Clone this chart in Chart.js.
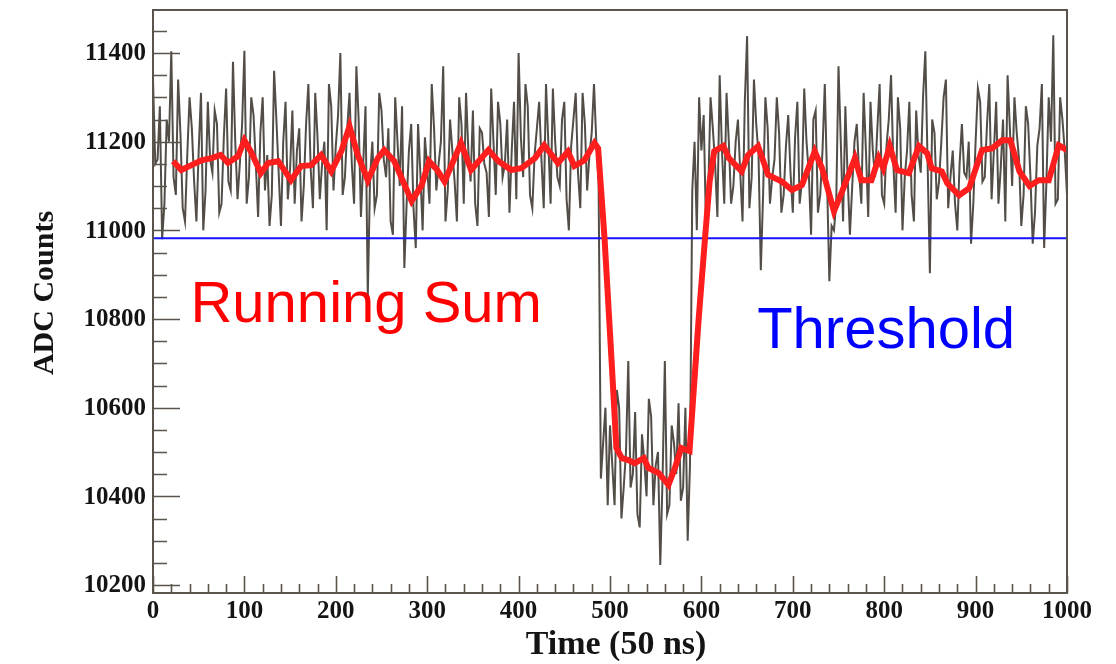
<!DOCTYPE html>
<html>
<head>
<meta charset="utf-8">
<script src="https://cdn.jsdelivr.net/npm/chart.js@4"></script>
<style>
  html, body { margin: 0; padding: 0; background: #fff; }
</style>
</head>
<body>
<canvas id="adc" width="1116" height="664"></canvas>
<script>
/* ADC trace with running sum and threshold (ROOT-style look) */

// raw ADC samples at t = 0, 5, 10 ... 1000
const rawStep = 5;
const rawCounts = [
  11340, 11160, 10980, 11250, 11404, 11080, 11220, 11020, 11300, 11110, 11180, 11000, 11290, 11130, 11240, 11060, 11320, 11090, 11200, 11150,
  11405, 11120, 11260, 11030, 11300, 11170, 11080, 11250, 11010, 11290, 11140, 11060, 11230, 11100, 11330, 11050, 11210, 11150, 11000, 11280,
  11190, 11400, 11120, 11310, 11060, 11250, 11150, 10850, 11200, 11080, 11270, 11120, 11020, 11300, 11100, 10915, 11180, 11050, 11240, 11000,
  11140, 11330, 11090, 11200, 11020, 11250, 11110, 11300, 11060, 11180, 11270, 11010, 11220, 11130, 11320, 11080, 11240, 11150, 11040, 11290,
  11400, 11120, 11280, 11050, 11230, 11160, 11330, 11060, 11200, 11100, 11290, 11000, 11250, 11130, 11310, 11090, 11220, 11200, 10440, 10600,
  10560, 10380, 10600, 10420, 10705, 10450, 10360, 10540, 10400, 10580, 10470, 10245, 10705, 10380, 10520, 10610, 10420, 10300, 11090, 11000,
  11180, 11010, 11300, 11150, 11350, 11060, 11200, 11100, 11250, 11020, 11438, 11120, 11240, 10910, 11300, 11060, 11160, 11220, 11080, 11260,
  11040, 11290, 11110, 11200, 10990, 11270, 11080, 11330, 10885, 11000, 11370, 11020, 11120, 11100, 11240, 11060, 11180, 11290, 11120, 11330,
  11060, 11250, 11150, 11300, 11000, 11180, 11080, 11270, 11130, 11404, 10903, 11220, 11110, 11300, 11050, 11180, 11000, 11240, 11120, 10970,
  11200, 11290, 11120, 11330, 11180, 11060, 11250, 11350, 11100, 11220, 11010, 11280, 11120, 11040, 11230, 10960, 11300, 11440, 11070, 11250, 11080
];
// raw ADC samples in between, at t = 2.5, 7.5 ... 997.5
const rawCountsMid = [
  11150, 11280, 11060, 11200, 11120, 11340, 11050, 11170, 11230, 11020, 11310, 11090, 11160, 11270, 11040, 11210, 11110, 11380, 11070, 11240,
  11060, 11300, 11150, 11220, 11090, 11010, 11360, 11130, 11200, 11070, 11270, 11180, 11020, 11240, 11140, 11310, 11070, 11200, 11330, 11090,
  11260, 11080, 11230, 11150, 11370, 11030, 11280, 11120, 11050, 11310, 11160, 11230, 10990, 11200, 11280, 11060, 11240, 10960, 11130, 11210,
  11060, 11230, 11150, 11370, 11090, 11180, 11020, 11240, 11310, 11110, 11060, 11230, 11150, 11030, 11200, 11290, 11120, 11250, 11180, 11070,
  11210, 11330, 11080, 11170, 11290, 11050, 11200, 11320, 11120, 11250, 11070, 11190, 11310, 11050, 11240, 11170, 11330, 11110, 10520, 10380,
  10470, 10640, 10350, 10500, 10420, 10590, 10330, 10480, 10620, 10380, 10500, 10440, 10360, 10560, 10450, 10390, 10600, 10470, 11200, 11300,
  11260, 11090, 11230, 11030, 11180, 11310, 11060, 11200, 11130, 11290, 11050, 11340, 11170, 11080, 11230, 11120, 11300, 11040, 11190, 11130,
  11210, 11060, 11320, 11130, 11250, 11040, 11180, 11110, 11010, 11060, 11200, 11280, 10990, 11200, 11130, 11310, 11030, 11180, 11230, 11080,
  11190, 11350, 11040, 11230, 11120, 11290, 11020, 11170, 11300, 11150, 11250, 11070, 11200, 11340, 11120, 11060, 11150, 11130, 11200, 11060,
  11320, 11110, 11240, 11070, 11290, 11140, 11020, 11230, 11300, 11160, 11080, 11240, 10970, 11190, 11330, 11110, 11200, 11060, 11300, 11180
];

// running sum (red)
const sumTime = [
  22, 31, 42, 53, 64, 74, 82, 93, 100, 107, 118, 126, 137, 151, 162, 173, 184, 195, 206, 215,
  224, 235, 246, 253, 264, 272, 283, 294, 302, 311, 319, 337, 348, 367, 378, 392, 403, 418, 428, 443,
  454, 461, 472, 483, 487, 494, 502, 507, 513, 520, 527, 537, 542, 553, 564, 571, 578, 587, 591, 597,
  604, 609, 614, 624, 630, 644, 651, 662, 673, 688, 699, 710, 724, 732, 745, 754, 768, 775, 786, 794,
  799, 806, 814, 827, 838, 847, 852, 863, 869, 882, 893, 907, 918, 929, 938, 948, 959, 969, 980, 991, 1000
];
const sumCounts = [
  11156, 11136, 11147, 11158, 11163, 11170, 11152, 11167, 11203, 11178, 11129, 11152, 11156, 11113, 11145, 11147, 11170, 11133, 11178, 11235,
  11170, 11113, 11163, 11181, 11156, 11118, 11066, 11102, 11156, 11136, 11110, 11197, 11136, 11181, 11156, 11136, 11140, 11163, 11192, 11152,
  11178, 11145, 11158, 11197, 11185, 10983, 10696, 10509, 10486, 10482, 10475, 10486, 10464, 10453, 10426, 10464, 10509, 10502, 10622, 10800,
  10983, 11110, 11178, 11190, 11163, 11133, 11170, 11190, 11125, 11110, 11091, 11102, 11178, 11140, 11043, 11088, 11163, 11113, 11113, 11163,
  11140, 11190, 11136, 11129, 11190, 11174, 11140, 11133, 11106, 11079, 11095, 11181, 11185, 11203, 11203, 11133, 11100, 11113, 11113, 11192, 11181
];

const thresholdLevel = 10982;

const xTicks = [0, 100, 200, 300, 400, 500, 600, 700, 800, 900, 1000];
const yTicks = [10200, 10400, 10600, 10800, 11000, 11200, 11400];

const rawPoints = [];
rawCounts.forEach((c, i) => {
  rawPoints.push({ x: i * rawStep, y: c });
  if (i < rawCountsMid.length) rawPoints.push({ x: i * rawStep + rawStep / 2, y: rawCountsMid[i] });
});
const sumPoints = sumTime.map((t, i) => ({ x: t, y: sumCounts[i] }));

// ROOT-like frame, inward ticks, labels and the two text notes
const rootAxes = {
  id: 'rootAxes',
  afterDatasetsDraw(chart) {
    const { ctx, chartArea: a, scales: { x, y } } = chart;
    ctx.save();

    ctx.strokeStyle = '#5a544c';
    ctx.lineWidth = 2;
    ctx.strokeRect(a.left, a.top, a.right - a.left, a.bottom - a.top);

    ctx.beginPath();
    for (let v = 0; v <= 1000; v += 20) {
      const px = Math.round(x.getPixelForValue(v)) + 0.5;
      const len = v % 100 === 0 ? 17 : 9;
      ctx.moveTo(px, a.bottom);
      ctx.lineTo(px, a.bottom - len);
    }
    for (let v = 10200; v <= 11450; v += 50) {
      const py = Math.round(y.getPixelForValue(v)) + 0.5;
      const len = v % 200 === 0 ? 27 : 14;
      ctx.moveTo(a.left, py);
      ctx.lineTo(a.left + len, py);
    }
    ctx.lineWidth = 1.6;
    ctx.stroke();

    ctx.fillStyle = '#141414';
    ctx.font = 'bold 25px "Liberation Serif"';
    ctx.textAlign = 'center';
    ctx.textBaseline = 'alphabetic';
    xTicks.forEach(v => ctx.fillText(String(v), x.getPixelForValue(v), 618));
    ctx.textAlign = 'right';
    ctx.textBaseline = 'middle';
    yTicks.forEach(v => ctx.fillText(String(v), a.left - 7, y.getPixelForValue(v) + 1));

    ctx.font = 'bold 34px "Liberation Serif"';
    ctx.textAlign = 'center';
    ctx.textBaseline = 'alphabetic';
    ctx.fillText('Time (50 ns)', 616, 654);

    ctx.save();
    ctx.translate(53, 293);
    ctx.rotate(-Math.PI / 2);
    ctx.font = 'bold 30px "Liberation Serif"';
    ctx.fillText('ADC Counts', 0, 0);
    ctx.restore();

    ctx.font = '58px "Liberation Sans"';
    ctx.textAlign = 'left';
    ctx.fillStyle = '#ff0000';
    ctx.fillText('Running Sum', x.getPixelForValue(41), y.getPixelForValue(10793));
    ctx.fillStyle = '#0000ff';
    ctx.fillText('Threshold', x.getPixelForValue(661), y.getPixelForValue(10735));

    ctx.restore();
  }
};

new Chart(document.getElementById('adc'), {
  type: 'line',
  data: {
    datasets: [
      {
        label: 'ADC samples',
        data: rawPoints,
        borderColor: 'rgba(44, 38, 30, 0.82)',
        borderWidth: 2,
        pointRadius: 0,
        tension: 0,
        order: 3
      },
      {
        label: 'Threshold',
        data: [{ x: 0, y: thresholdLevel }, { x: 1000, y: thresholdLevel }],
        borderColor: '#1414ff',
        borderWidth: 2,
        pointRadius: 0,
        order: 2
      },
      {
        label: 'Running Sum',
        data: sumPoints,
        borderColor: '#ff1e1e',
        borderWidth: 6,
        pointRadius: 0,
        tension: 0,
        order: 1
      }
    ]
  },
  options: {
    responsive: false,
    animation: false,
    devicePixelRatio: 1,
    layout: { padding: { left: 153, right: 49, top: 10, bottom: 71 } },
    plugins: { legend: { display: false }, tooltip: { enabled: false } },
    scales: {
      x: { type: 'linear', min: 0, max: 1000, display: false },
      y: { type: 'linear', min: 10182, max: 11497, display: false }
    }
  },
  plugins: [rootAxes]
});
</script>
</body>
</html>
